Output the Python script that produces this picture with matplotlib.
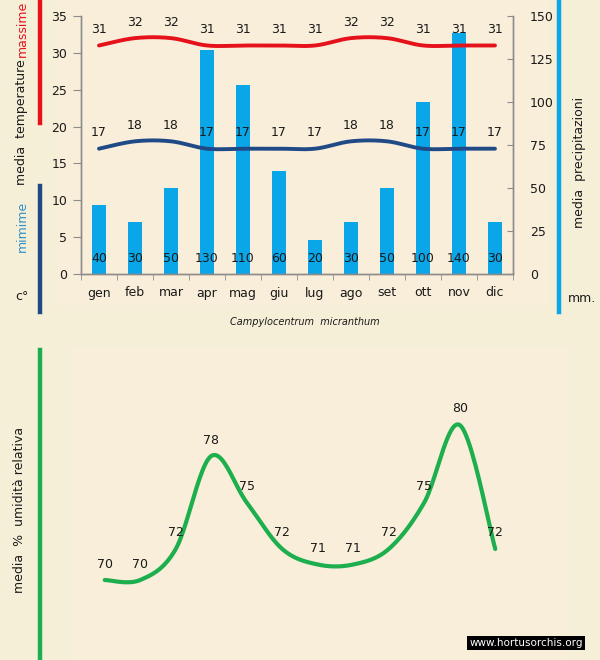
import numpy as np
import matplotlib
matplotlib.use("Agg")
import matplotlib.pyplot as plt
from matplotlib.patches import Rectangle

months = ["gen", "feb", "mar", "apr", "mag", "giu", "lug", "ago", "set", "ott", "nov", "dic"]
t_max = [31, 32, 32, 31, 31, 31, 31, 32, 32, 31, 31, 31]
t_min = [17, 18, 18, 17, 17, 17, 17, 18, 18, 17, 17, 17]
precip = [40, 30, 50, 130, 110, 60, 20, 30, 50, 100, 140, 30]
humidity = [70, 70, 72, 78, 75, 72, 71, 71, 72, 75, 80, 72]
temp_ticks = [0, 5, 10, 15, 20, 25, 30, 35]
precip_ticks = [0, 25, 50, 75, 100, 125, 150]

W, H = 600, 660
fig = plt.figure(figsize=(W / 100, H / 100), dpi=100)
fig.patch.set_facecolor("#F5EFD8")

def fx(px):
    return px / W

def fy(py):
    return 1 - py / H

# textured panels (approximated with solid colour)
fig.patches.append(Rectangle((fx(58), fy(305)), fx(548 - 58), (305) / H,
                             transform=fig.transFigure, facecolor="#F9EEDA", edgecolor="none", zorder=-5))
fig.patches.append(Rectangle((fx(72), fy(660)), fx(568 - 72), (660 - 348) / H,
                             transform=fig.transFigure, facecolor="#F9EEDA", edgecolor="none", zorder=-5))


def smooth(xs, ys, n=24):
    P = np.column_stack([np.asarray(xs, float), np.asarray(ys, float)])
    out = []
    m = len(P)
    for i in range(m - 1):
        p0 = P[i - 1] if i > 0 else P[i]
        p1 = P[i]
        p2 = P[i + 1]
        p3 = P[i + 2] if i + 2 < m else P[i + 1]
        c1 = p1 + (p2 - p0) / 6.0
        c2 = p2 - (p3 - p1) / 6.0
        t = np.linspace(0, 1, n, endpoint=(i == m - 2))[:, None]
        seg = ((1 - t) ** 3) * p1 + 3 * ((1 - t) ** 2) * t * c1 + 3 * (1 - t) * t ** 2 * c2 + t ** 3 * p2
        out.append(seg)
    out = np.vstack(out)
    return out[:, 0], out[:, 1]


x = np.arange(len(months))
txtc = "#1a1a1a"
fs = 9

# ---------------- upper chart ----------------
ax = fig.add_axes([fx(81), fy(274), fx(513 - 81), (274 - 16) / H])
ax.set_facecolor("none")
ax2 = ax.twinx()
ax.set_zorder(2)
ax2.set_zorder(1)

ax2.bar(x, precip, width=0.39, color="#0AA6E8", zorder=2)
ax2.set_ylim(0, 150)
ax2.set_yticks(precip_ticks)
for xi, v in zip(x, precip):
    ax2.annotate(str(v), (xi, 0), xytext=(0, 15), textcoords="offset pixels",
                 ha="center", va="center", fontsize=fs, color=txtc, zorder=5)

sx, sy = smooth(x, t_max)
ax.plot(sx, sy, color="#E5121C", lw=2.8, solid_capstyle="round", zorder=3)
sx, sy = smooth(x, t_min)
ax.plot(sx, sy, color="#1F4A86", lw=2.8, solid_capstyle="round", zorder=3)
for xi, v in zip(x, t_max):
    ax.annotate(str(v), (xi, v), xytext=(0, 16), textcoords="offset pixels",
                ha="center", va="center", fontsize=fs, color=txtc)
for xi, v in zip(x, t_min):
    ax.annotate(str(v), (xi, v), xytext=(0, 16), textcoords="offset pixels",
                ha="center", va="center", fontsize=fs, color=txtc)

ax.set_xlim(-0.5, 11.5)
ax.set_ylim(0, 35)
ax.set_yticks(temp_ticks)
ax.set_xticks(x)
ax.set_xticklabels(months)
ax.set_xticks(np.arange(-0.5, 12, 1), minor=True)
ax.tick_params(axis="x", which="major", length=0, pad=9, labelsize=fs, colors=txtc)
ax.tick_params(axis="x", which="minor", length=4, direction="out", color="#8c8c8c")
ax.tick_params(axis="y", length=6, direction="out", color="#8c8c8c", labelsize=fs, labelcolor=txtc, pad=4)
ax2.tick_params(axis="y", length=4, direction="in", color="#8c8c8c", labelsize=fs, labelcolor=txtc, pad=12)
for a in (ax, ax2):
    a.spines["top"].set_visible(False)
    for s in ("left", "right", "bottom"):
        a.spines[s].set_color("#8c8c8c")
        a.spines[s].set_linewidth(1.0)

fig.text(fx(305), fy(322), "Campylocentrum  micranthum", ha="center", va="center",
         fontsize=7, style="italic", color=txtc)

# left / right side decorations
fig.add_artist(plt.Line2D([fx(40), fx(40)], [fy(0), fy(123)], color="#E5121C", lw=3.2))
fig.add_artist(plt.Line2D([fx(40), fx(40)], [fy(186), fy(312)], color="#1F4A86", lw=3.2))
fig.add_artist(plt.Line2D([fx(559), fx(559)], [fy(0), fy(312)], color="#0AA6E8", lw=3.2))
fig.add_artist(plt.Line2D([fx(40), fx(40)], [fy(350), fy(660)], color="#1DAF4E", lw=3.2))

sfs = 9
fig.text(fx(22), fy(29), "massime", rotation=90, ha="center", va="center", fontsize=sfs, color="#E5121C")
fig.text(fx(22), fy(122), "media  temperature", rotation=90, ha="center", va="center", fontsize=sfs, color=txtc)
fig.text(fx(22), fy(226), "mimime", rotation=90, ha="center", va="center", fontsize=sfs, color="#2E8FC8")
fig.text(fx(22), fy(297), "c°", ha="center", va="center", fontsize=sfs, color=txtc)
fig.text(fx(580), fy(162), "media  precipitazioni", rotation=90, ha="center", va="center", fontsize=sfs, color=txtc)
fig.text(fx(582), fy(298), "mm.", ha="center", va="center", fontsize=sfs, color=txtc)

# ---------------- lower chart ----------------
bx = fig.add_axes([fx(87), fy(657.5), fx(426), 310 / H])
bx.set_facecolor("none")
bx.set_zorder(1)
sx, sy = smooth(x, humidity)
bx.plot(sx, sy, color="#1DAF4E", lw=3.0, solid_capstyle="round")
for xi, v in zip(x, humidity):
    bx.annotate(str(v), (xi, v), xytext=(0, 16), textcoords="offset pixels",
                ha="center", va="center", fontsize=fs, color=txtc)
bx.set_xlim(-0.5, 11.5)
bx.set_ylim(65, 85)
bx.axis("off")

fig.text(fx(20), fy(510), "media  %  umidità relativa", rotation=90, ha="center", va="center",
         fontsize=sfs, color=txtc)

fig.text(fx(526), fy(643), "www.hortusorchis.org", ha="center", va="center", fontsize=7.5,
         color="white", bbox=dict(facecolor="black", edgecolor="none", pad=1.5))

fig.savefig("out.png", dpi=100, facecolor=fig.get_facecolor())
